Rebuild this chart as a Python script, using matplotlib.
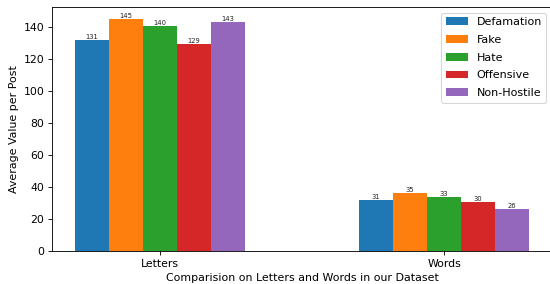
import numpy as np
import matplotlib
matplotlib.use("Agg")
import matplotlib.pyplot as plt

groups = ["Letters", "Words"]
classes = ["Defamation", "Fake", "Hate", "Offensive", "Non-Hostile"]
colors = ["#1f77b4", "#ff7f0e", "#2ca02c", "#d62728", "#9467bd"]
heights = {
    "Defamation": [131.9, 31.9],
    "Fake": [145.2, 36.1],
    "Hate": [140.6, 33.6],
    "Offensive": [129.4, 30.6],
    "Non-Hostile": [143.1, 26.3],
}
labels = {
    "Defamation": ["131", "31"],
    "Fake": ["145", "35"],
    "Hate": ["140", "33"],
    "Offensive": ["129", "30"],
    "Non-Hostile": ["143", "26"],
}

dpi = 78
fig = plt.figure(figsize=(550 / dpi, 284 / dpi), dpi=dpi)
ax = fig.add_axes([52 / 550, 33 / 284, 500 / 550, 244 / 284])

x = np.arange(len(groups))
w = 0.12
for i, c in enumerate(classes):
    pos = x + (i - 2) * w
    bars = ax.bar(pos, heights[c], w, color=colors[i], label=c)
    for b, lab in zip(bars, labels[c]):
        ax.text(b.get_x() + b.get_width() / 2, b.get_height(), lab,
                ha="center", va="bottom", fontsize=6.2, color="#222222")

ax.set_xticks(x)
ax.set_xticklabels(groups)
ax.tick_params(labelsize=10)
ax.set_ylabel("Average Value per Post", fontsize=10.2)
ax.set_xlabel("Comparision on Letters and Words in our Dataset", fontsize=10.2)
ax.legend(loc="upper right", fontsize=10.25, labelspacing=0.7)
fig.savefig("out.png", dpi=dpi)
